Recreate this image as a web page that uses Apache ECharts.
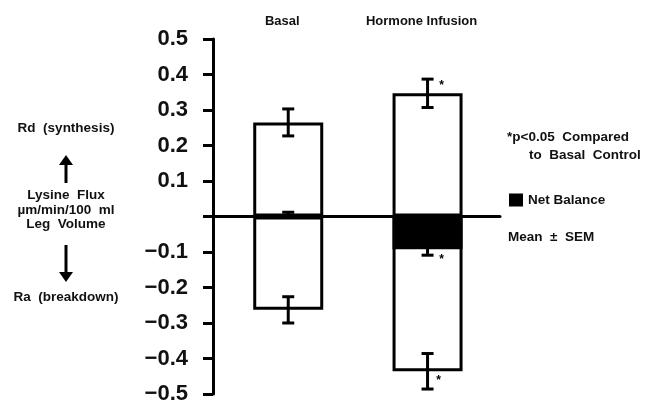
<!DOCTYPE html>
<html>
<head>
<meta charset="utf-8">
<script src="https://cdn.jsdelivr.net/npm/echarts@6/dist/echarts.min.js"></script>
<style>
html, body { margin: 0; padding: 0; background: #fff; }
#chart { width: 656px; height: 405px; }
</style>
</head>
<body>
<div id="chart"></div>
<script>
// groups
var categories = ['Basal', 'Hormone Infusion'];
// Rd (synthesis), mean and SEM
var rdMean = [0.265, 0.347];
var rdSem = [0.038, 0.040];
// Ra (breakdown), mean and SEM
var raMean = [-0.263, -0.436];
var raSem = [0.037, 0.050];
// net balance, mean and SEM
var netMean = [0.005, -0.092];
var netSem = [0.007, 0.017];
// p<0.05 vs basal
var signif = [false, true];
var yTicks = [-0.5, -0.4, -0.3, -0.2, -0.1, 0, 0.1, 0.2, 0.3, 0.4, 0.5];

var FONT = '"Liberation Sans", Arial, sans-serif';
var xPos = categories.map(function (c, i) { return i + 1; });

function pairs(vals) {
	return vals.map(function (v, i) { return [xPos[i], v]; });
}
function errData(mean, sem) {
	return mean.map(function (m, i) { return [xPos[i], m - sem[i], m + sem[i], signif[i] ? 1 : 0]; });
}

// draws the error bar and, if significant, the asterisk
function errRender(starSide) {
	return function (params, api) {
		var x = api.value(0);
		var lo = api.coord([x, api.value(1)]);
		var hi = api.coord([x, api.value(2)]);
		var cap = 6;
		var st = { stroke: '#000', lineWidth: 3 };
		var kids = [
			{ type: 'line', shape: { x1: lo[0], y1: lo[1], x2: hi[0], y2: hi[1] }, style: st },
			{ type: 'line', shape: { x1: hi[0] - cap, y1: hi[1], x2: hi[0] + cap, y2: hi[1] }, style: st },
			{ type: 'line', shape: { x1: lo[0] - cap, y1: lo[1], x2: lo[0] + cap, y2: lo[1] }, style: st }
		];
		if (api.value(3) === 1) {
			var sx, sy;
			if (starSide === 'top') { sx = hi[0] + 14; sy = hi[1] + 7; }
			else if (starSide === 'net') { sx = lo[0] + 14; sy = lo[1] + 4; }
			else { sx = lo[0] + 11; sy = lo[1] - 8; }
			kids.push({ type: 'text', style: { text: '*', x: sx, y: sy, fill: '#000',
				font: 'bold 12px ' + FONT, textAlign: 'center', textVerticalAlign: 'middle' } });
		}
		return { type: 'group', children: kids };
	};
}

function note(x, y, text, align) {
	return { type: 'text', x: x, y: y, style: { text: text, font: 'bold 13.5px ' + FONT, fill: '#111',
		textAlign: align || 'left', textVerticalAlign: 'middle' } };
}

var chart = echarts.init(document.getElementById('chart'));

var barStyle = { color: '#fff', borderColor: '#000', borderWidth: 3 };

var option = {
	backgroundColor: '#fff',
	animation: false,
	grid: { left: 213, right: 156, top: 39, bottom: 8 },
	legend: {
		data: ['Net Balance'],
		left: 509, top: 193, padding: 0,
		itemWidth: 14, itemHeight: 13, itemGap: 8,
		icon: 'rect',
		textStyle: { fontFamily: FONT, fontSize: 13.5, fontWeight: 'bold', color: '#111' }
	},
	xAxis: [
		{
			type: 'value', min: 0.46, max: 2.52,
			axisLine: { onZero: true, lineStyle: { color: '#000', width: 3 } },
			axisTick: { show: false }, axisLabel: { show: false }, splitLine: { show: false }
		},
		{
			type: 'value', min: 0.46, max: 2.52, position: 'top',
			axisLine: { show: false }, axisTick: { show: false }, splitLine: { show: false },
			axisLabel: {
				customValues: xPos, margin: 11, padding: [0, 12, 0, 0],
				formatter: function (v) { return categories[Math.round(v) - 1]; },
				fontFamily: FONT, fontSize: 13, fontWeight: 'bold', color: '#111'
			}
		}
	],
	yAxis: {
		type: 'value', min: yTicks[0], max: yTicks[yTicks.length - 1], interval: 0.1,
		axisLine: { show: true, onZero: false, lineStyle: { color: '#000', width: 3 } },
		axisTick: { show: true, length: 10, lineStyle: { color: '#000', width: 3 } },
		splitLine: { show: false },
		axisLabel: {
			margin: 25,
			fontFamily: FONT, fontSize: 22, fontWeight: 'bold', color: '#111',
			formatter: function (v) {
				if (Math.abs(v) < 1e-9) return '';
				return v.toFixed(1).replace('-', '\u2212');
			}
		}
	},
	series: [
		{ name: 'Rd', type: 'bar', data: pairs(rdMean), barWidth: 70, barGap: '-100%', itemStyle: barStyle },
		{ name: 'Ra', type: 'bar', data: pairs(raMean), barWidth: 70, barGap: '-100%', itemStyle: barStyle },
		{ name: 'Net Balance', type: 'bar', data: pairs(netMean), barWidth: 70, barGap: '-100%',
			itemStyle: { color: '#000', borderWidth: 0 } },
		{ type: 'custom', data: errData(rdMean, rdSem), renderItem: errRender('top'), z: 5 },
		{ type: 'custom', data: errData(raMean, raSem), renderItem: errRender('bottom'), z: 5 },
		{ type: 'custom', data: errData(netMean, netSem), renderItem: errRender('net'), z: 5 }
	],
	graphic: [
		note(66, 128, 'Rd  (synthesis)', 'center'),
		{ type: 'line', shape: { x1: 66, y1: 183, x2: 66, y2: 162 }, style: { stroke: '#000', lineWidth: 3 } },
		{ type: 'polygon', shape: { points: [[66, 155], [59, 165], [73, 165]] }, style: { fill: '#000' } },
		note(66, 195, 'Lysine  Flux', 'center'),
		note(66, 210, '\u00b5m/min/100  ml', 'center'),
		note(66, 224, 'Leg  Volume', 'center'),
		{ type: 'line', shape: { x1: 66, y1: 245, x2: 66, y2: 273 }, style: { stroke: '#000', lineWidth: 3 } },
		{ type: 'polygon', shape: { points: [[66, 282], [59, 272], [73, 272]] }, style: { fill: '#000' } },
		note(66, 297, 'Ra  (breakdown)', 'center'),
		note(507, 137, '*p<0.05  Compared'),
		note(529, 155, 'to  Basal  Control'),
		note(508, 237, 'Mean  \u00b1  SEM')
	]
};
chart.setOption(option);
</script>
</body>
</html>
